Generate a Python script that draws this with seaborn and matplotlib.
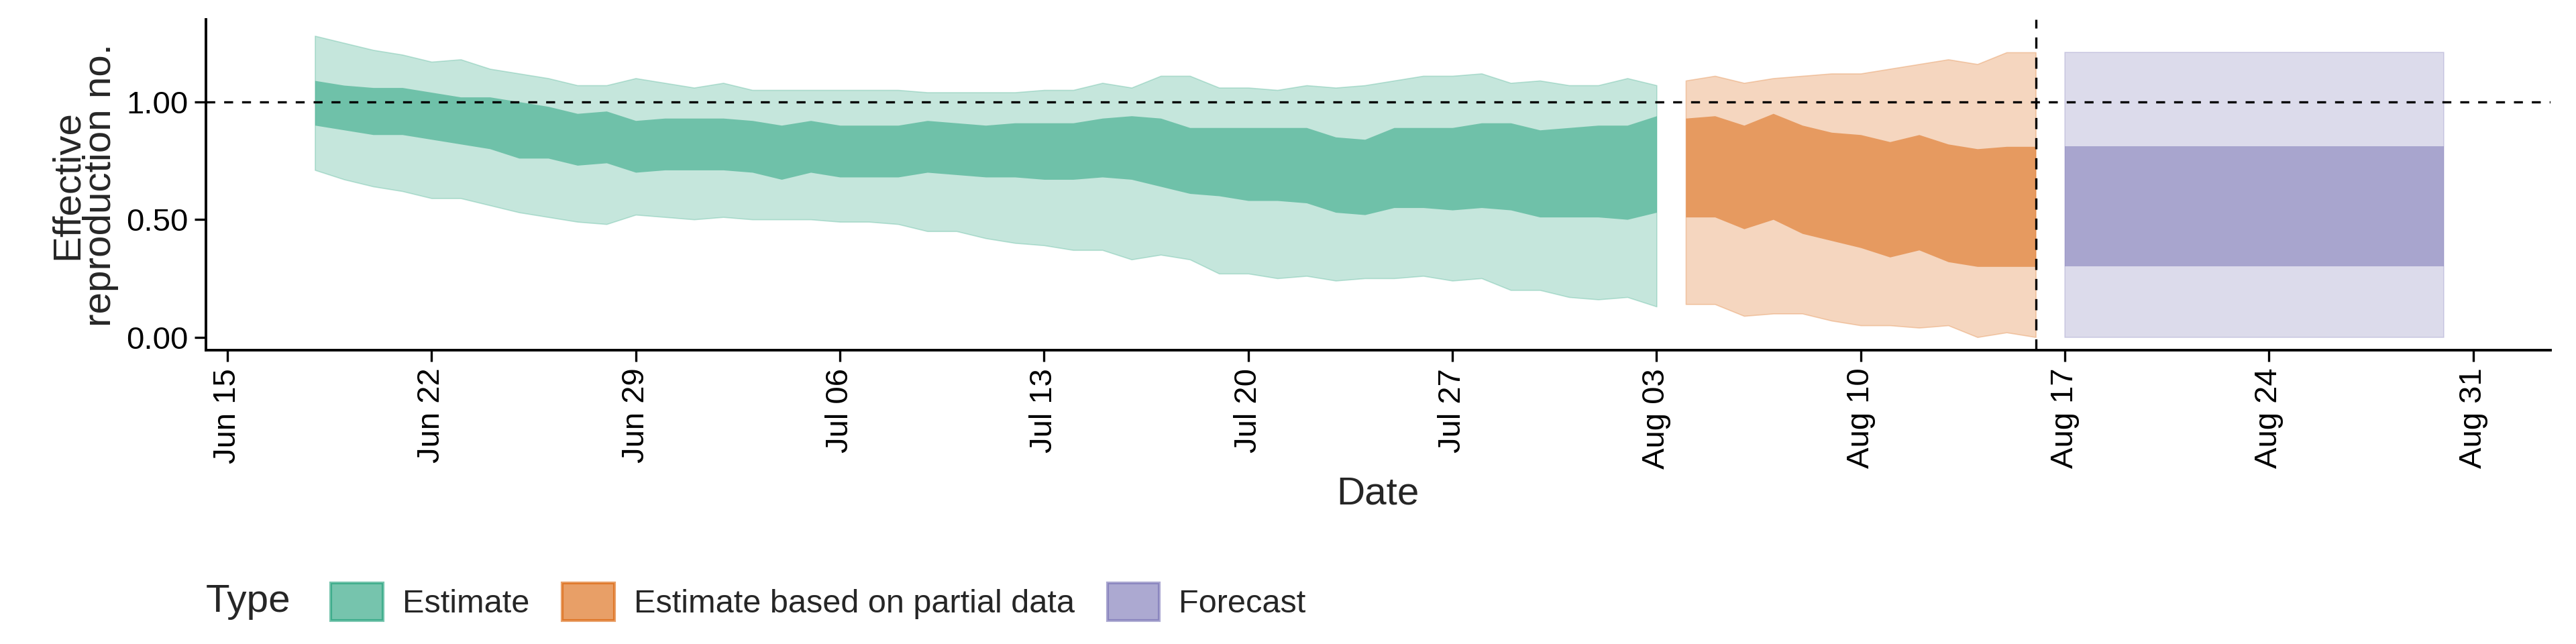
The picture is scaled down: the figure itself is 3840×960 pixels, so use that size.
import numpy as np
import pandas as pd
import matplotlib.pyplot as plt
import matplotlib.dates as mdates
from matplotlib.patches import Patch
import seaborn as sns

# estimate: Jun 18 - Aug 03
est_dates = pd.date_range('2020-06-18', '2020-08-03')
est_upper_90 = [1.28, 1.25, 1.22, 1.20, 1.17, 1.18, 1.14, 1.12, 1.10, 1.07, 1.07, 1.10, 1.08, 1.06, 1.08, 1.05,
                1.05, 1.05, 1.05, 1.05, 1.05, 1.04, 1.04, 1.04, 1.04, 1.05, 1.05, 1.08, 1.06, 1.11, 1.11, 1.06,
                1.06, 1.05, 1.07, 1.06, 1.07, 1.09, 1.11, 1.11, 1.12, 1.08, 1.09, 1.07, 1.07, 1.10, 1.07]
est_upper_50 = [1.09, 1.07, 1.06, 1.06, 1.04, 1.02, 1.02, 1.00, 0.98, 0.95, 0.96, 0.92, 0.93, 0.93, 0.93, 0.92,
                0.90, 0.92, 0.90, 0.90, 0.90, 0.92, 0.91, 0.90, 0.91, 0.91, 0.91, 0.93, 0.94, 0.93, 0.89, 0.89,
                0.89, 0.89, 0.89, 0.85, 0.84, 0.89, 0.89, 0.89, 0.91, 0.91, 0.88, 0.89, 0.90, 0.90, 0.94]
est_lower_50 = [0.90, 0.88, 0.86, 0.86, 0.84, 0.82, 0.80, 0.76, 0.76, 0.73, 0.74, 0.70, 0.71, 0.71, 0.71, 0.70,
                0.67, 0.70, 0.68, 0.68, 0.68, 0.70, 0.69, 0.68, 0.68, 0.67, 0.67, 0.68, 0.67, 0.64, 0.61, 0.60,
                0.58, 0.58, 0.57, 0.53, 0.52, 0.55, 0.55, 0.54, 0.55, 0.54, 0.51, 0.51, 0.51, 0.50, 0.53]
est_lower_90 = [0.71, 0.67, 0.64, 0.62, 0.59, 0.59, 0.56, 0.53, 0.51, 0.49, 0.48, 0.52, 0.51, 0.50, 0.51, 0.50,
                0.50, 0.50, 0.49, 0.49, 0.48, 0.45, 0.45, 0.42, 0.40, 0.39, 0.37, 0.37, 0.33, 0.35, 0.33, 0.27,
                0.27, 0.25, 0.26, 0.24, 0.25, 0.25, 0.26, 0.24, 0.25, 0.20, 0.20, 0.17, 0.16, 0.17, 0.13]

# estimate based on partial data: Aug 04 - Aug 16
part_dates = pd.date_range('2020-08-04', '2020-08-16')
part_upper_90 = [1.09, 1.11, 1.08, 1.10, 1.11, 1.12, 1.12, 1.14, 1.16, 1.18, 1.16, 1.21, 1.21]
part_upper_50 = [0.93, 0.94, 0.90, 0.95, 0.90, 0.87, 0.86, 0.83, 0.86, 0.82, 0.80, 0.81, 0.81]
part_lower_50 = [0.51, 0.51, 0.46, 0.50, 0.44, 0.41, 0.38, 0.34, 0.37, 0.32, 0.30, 0.30, 0.30]
part_lower_90 = [0.14, 0.14, 0.09, 0.10, 0.10, 0.07, 0.05, 0.05, 0.04, 0.05, 0.00, 0.02, 0.00]

# forecast: Aug 17 - Aug 30
fc_dates = pd.date_range('2020-08-17', '2020-08-30')
fc_upper_90, fc_upper_50, fc_lower_50, fc_lower_90 = 1.21, 0.81, 0.30, 0.00

colors = {'Estimate': '#1b9e77', 'Estimate based on partial data': '#d95f02', 'Forecast': '#7570b3'}

sns.set_theme(style='ticks')
plt.rcParams['font.family'] = ['Liberation Sans', 'DejaVu Sans']

fig, ax = plt.subplots(figsize=(19.2, 4.8), dpi=200)
fig.subplots_adjust(left=0.08, right=0.99, top=0.97, bottom=0.456)

series = [
    ('Estimate', est_dates, est_lower_90, est_upper_90, est_lower_50, est_upper_50),
    ('Estimate based on partial data', part_dates, part_lower_90, part_upper_90, part_lower_50, part_upper_50),
    ('Forecast', fc_dates, [fc_lower_90] * len(fc_dates), [fc_upper_90] * len(fc_dates),
     [fc_lower_50] * len(fc_dates), [fc_upper_50] * len(fc_dates)),
]
for name, d, lo90, hi90, lo50, hi50 in series:
    c = colors[name]
    ax.fill_between(d, lo90, hi90, color=c, alpha=0.25, linewidth=0.6, edgecolor=c)
    ax.fill_between(d, lo50, hi50, color=c, alpha=0.5, linewidth=0)

ax.axhline(1.0, color='black', linestyle=(0, (4, 4)), linewidth=1.2)
ax.axvline(pd.Timestamp('2020-08-16'), color='black', linestyle=(0, (5, 4)), linewidth=1.2)

ax.set_xlim(pd.Timestamp('2020-06-15') - pd.Timedelta(days=0.73), pd.Timestamp('2020-08-31') + pd.Timedelta(days=2.64))
ax.set_ylim(-0.056, 1.35)
ax.set_yticks([0, 0.5, 1.0])
ax.set_yticklabels(['0.00', '0.50', '1.00'])
ax.set_xticks(pd.date_range('2020-06-15', '2020-08-31', freq='7D'))
ax.xaxis.set_major_formatter(mdates.DateFormatter('%b %d'))
ax.tick_params(axis='x', rotation=90, labelsize=17, length=6, width=1.2, colors='black')
ax.tick_params(axis='y', labelsize=17, length=6, width=1.2, colors='black')
for s in ['left', 'bottom']:
    ax.spines[s].set_linewidth(1.4)
    ax.spines[s].set_color('black')
sns.despine(ax=ax)
ax.set_xlabel('Date', fontsize=21)
ax.set_ylabel('Effective\nreproduction no.', fontsize=21, linespacing=0.9)

handles = [Patch(facecolor=c, edgecolor=c, alpha=0.6, linewidth=1.5, label=n) for n, c in colors.items()]
fig.text(0.08, 0.066, 'Type', fontsize=21, va='center')
fig.legend(handles=handles, loc='center left', bbox_to_anchor=(0.117, 0.066), ncol=3, frameon=False,
           fontsize=17.5, handlelength=1.6, handleheight=1.4, columnspacing=1.0, handletextpad=0.6)

fig.savefig('out.png')
